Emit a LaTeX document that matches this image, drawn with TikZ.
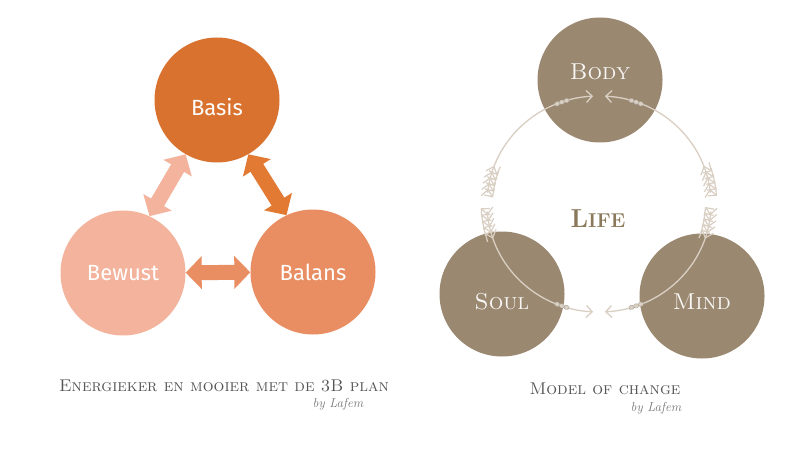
\documentclass[tikz,border=0pt]{standalone}
\usepackage{fontspec}
\newfontfamily\handfont{Fira Sans}
\usetikzlibrary{arrows.meta,calc,decorations.markings}

\definecolor{basisc}{HTML}{D9722E}
\definecolor{bewustc}{HTML}{F3B39C}
\definecolor{balansc}{HTML}{E88E62}
\definecolor{pijlc}{HTML}{E27A33}
\definecolor{bruin}{HTML}{9A8870}
\definecolor{beige}{HTML}{D9CFC3}
\definecolor{lifec}{HTML}{8C795C}
\definecolor{grijs}{HTML}{555555}

\begin{document}
\begin{tikzpicture}[x=1pt, y=1pt,
  bol/.style={circle, inner sep=0pt, minimum size=125pt, text=white,
    font=\handfont\fontsize{22}{22}\selectfont},
  kern/.style={circle, inner sep=0pt, minimum size=125pt, fill=bruin},
  kernlabel/.style={text=white!92!bruin, font=\fontsize{23}{23}\selectfont\scshape},
  blok/.style={line width=15pt, {Triangle[length=16pt,width=32pt]}-{Triangle[length=16pt,width=32pt]}},
  veer/.style={draw=beige, line width=1.2pt},
  kraal/.style={draw=beige!80!black, fill=beige, line width=0.4pt},
  pijl/.style={draw=beige, line width=1.3pt, -{Straight Barb[length=6pt,width=12pt]},
    postaction={decorate},
    decoration={markings,
      mark=at position 3pt with {\draw[veer] (-7pt,6pt) -- (0pt,0pt) -- (-7pt,-6pt);},
      mark=at position 9pt with {\draw[veer] (-7pt,6pt) -- (0pt,0pt) -- (-7pt,-6pt);},
      mark=at position 15pt with {\draw[veer] (-7pt,6pt) -- (0pt,0pt) -- (-7pt,-6pt);},
      mark=at position 21pt with {\draw[veer] (-7pt,6pt) -- (0pt,0pt) -- (-7pt,-6pt);},
      mark=at position 27pt with {\draw[veer] (-7pt,6pt) -- (0pt,0pt) -- (-7pt,-6pt);},
      mark=at position -27pt with {\draw[kraal] (0pt,0pt) ellipse (2.6pt and 2.2pt);},
      mark=at position -32pt with {\draw[kraal] (0pt,0pt) ellipse (2.6pt and 2.2pt);},
      mark=at position -37pt with {\draw[kraal] (0pt,0pt) ellipse (2.6pt and 2.2pt);}}},
  kop/.style={text=grijs, font=\fontsize{17}{17}\selectfont\scshape},
  sign/.style={text=grijs!80, font=\fontsize{13}{13}\selectfont\itshape},
]
\fill[white] (0,0) rectangle (799,-449);
\useasboundingbox (0,0) rectangle (799,-449);

%==== Links: 3B plan ====
\node[bol, fill=basisc, label={[text=white, font=\handfont\fontsize{22}{22}\selectfont, yshift=-7pt]center:Basis}]
  (basis) at (217,-100) {};
\node[bol, fill=bewustc] (bewust) at (123,-273) {Bewust};
\node[bol, fill=balansc] (balans) at (313,-272) {Balans};
\draw[blok, bewustc] (bewust.65) -- (basis.240);
\draw[blok, pijlc]   (basis.300) -- (balans.115);
\draw[blok, balansc] (bewust) -- (balans);
\node[kop]  (titel1) at (224,-386) {Energieker en mooier met de 3B plan};
\node[sign] (lafem1) at (338,-404) {by Lafem};

%==== Rechts: model of change ====
\node[kern, label={[kernlabel, yshift=8pt]center:Body}] (body) at (600,-80) {};
\node[kern, label={[kernlabel, yshift=-8pt]center:Soul}] (soul) at (502,-294) {};
\node[kern, label={[kernlabel, yshift=-6pt]center:Mind}] (mind) at (702,-296) {};
\node[text=lifec, font=\fontsize{26}{26}\selectfont\bfseries] (life) at (598,-219)
  {L\fontsize{20}{20}\selectfont IFE};
\coordinate (ring) at (599,-204);
\draw[pijl] ($(ring)+(174:112 and 108)$) arc[start angle=174, end angle=93, x radius=112, y radius=108];
\draw[pijl] ($(ring)+(6:112 and 108)$) arc[start angle=6, end angle=87, x radius=112, y radius=108];
\draw[pijl] ($(ring)+(184:112 and 108)$) arc[start angle=184, end angle=267, x radius=112, y radius=108];
\draw[pijl] ($(ring)+(-4:112 and 108)$) arc[start angle=-4, end angle=-87, x radius=112, y radius=108];
\node[kop]  (titel2) at (605,-389) {Model of change};
\node[sign] (lafem2) at (656,-408) {by Lafem};

\end{tikzpicture}
\end{document}
